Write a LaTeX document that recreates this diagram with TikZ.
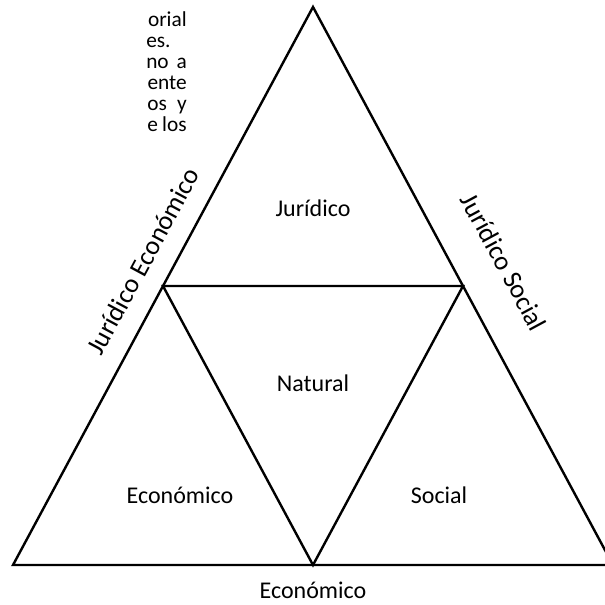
\documentclass[tikz,border=0pt]{standalone}
\usepackage{fontspec}
\setmainfont{Carlito}
\begin{document}
\begin{tikzpicture}[x=0.75pt,y=-0.75pt,
  edge/.style={line width=1.8pt},
  lbl/.style={font=\fontsize{18}{21}\selectfont, inner sep=0pt},
  rlbl/.style={font=\fontsize{20}{23}\selectfont, inner sep=0pt},
  para/.style={font=\fontsize{16}{19}\selectfont, inner sep=0pt}]
\useasboundingbox (0,0) rectangle (605,604);
\clip (0,0) rectangle (605,604);
\coordinate (A) at (313,7);
\coordinate (BL) at (13,565);
\coordinate (BR) at (613,565);
\coordinate (ML) at (163,286);
\coordinate (MR) at (463,286);
\coordinate (MB) at (313,565);
\draw[edge] (BL) -- (A) -- (BR) -- cycle;
\draw[edge] (ML) -- (MR) -- (MB) -- cycle;
\node[lbl] (jur) at (313,208) {Jurídico};
\node[lbl] (nat) at (313,383) {Natural};
\node[lbl] (eco) at (180,495) {Económico};
\node[lbl] (soc) at (439,495) {Social};
\node[lbl] (ecob) at (313,590) {Económico};
\node[rlbl, rotate=61.7] (je) at (143,261) {Jurídico Económico};
\node[rlbl, rotate=-61.7] (js) at (504,262) {Jurídico Social};
\node[para, anchor=base east] (p1) at (187,26) {orial};
\node[para, anchor=base west] (p2) at (146,47) {es.};
\node[para, anchor=base west] (p3a) at (146,68) {no};
\node[para, anchor=base east] (p3b) at (187,68) {a};
\node[para, anchor=base east] (p4) at (187,89) {ente};
\node[para, anchor=base west] (p5a) at (147,110) {os};
\node[para, anchor=base east] (p5b) at (187,110) {y};
\node[para, anchor=base west] (p6a) at (147,131) {e};
\node[para, anchor=base east] (p6b) at (187,131) {los};
\end{tikzpicture}
\end{document}
